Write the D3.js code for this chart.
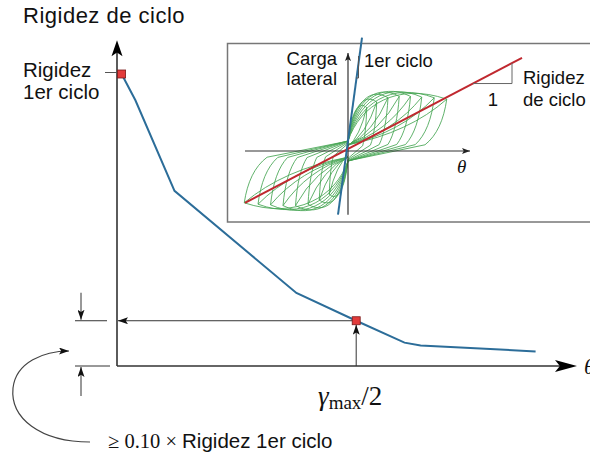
<!DOCTYPE html>
<html>
<head>
<meta charset="utf-8">
<script src="https://cdn.jsdelivr.net/npm/d3@7/dist/d3.min.js"></script>
<style>
  html, body { margin: 0; padding: 0; background: #fff; }
  svg { display: block; }
  .sans { font-family: "Liberation Sans", Arial, sans-serif; fill: #111; }
  .serif { font-family: "Liberation Serif", "DejaVu Serif", serif; fill: #111; }
</style>
</head>
<body>
<svg id="chart" width="590" height="454"></svg>
<script>
// ---- Main curve: cycle stiffness vs drift (relative units) ----
const driftMain = [1, 4, 12.5, 39, 52, 62.5, 66, 91];
const stiffness = [100, 91, 60, 25, 15.5, 8, 7, 5];
const firstCycleIndex = 0;   // stiffness of the first cycle
const halfMaxIndex = 4;      // point at gamma_max / 2

// ---- Inset: hysteresis loops (drift units, load units) ----
const loopAmplitudePos = [0.75, 1.15, 1.6, 2.05, 2.5, 2.95, 3.45, 3.95];
const loopAmplitudeNeg = [0.75, 1.15, 1.6, 2.1, 2.6, 3.1, 3.6, 4.15];
const loopPeakLoad     = [66, 76, 84, 88, 90, 90, 89, 88];
const loopTipLoad      = [62, 70, 76, 78, 78, 77, 76, 74];
const firstCycleLine = [[-0.4, -91], [0.56, 162]];
const cycleStiffLine = [[-4.12, -74], [6.96, 133]];

const svg = d3.select("#chart");

// defs: arrowheads (length x width)
const defs = svg.append("defs");
function marker(id, len, wid, color) {
  defs.append("marker")
    .attr("id", id)
    .attr("viewBox", `0 0 ${len} ${wid}`)
    .attr("refX", len).attr("refY", wid / 2)
    .attr("markerWidth", len).attr("markerHeight", wid)
    .attr("markerUnits", "userSpaceOnUse")
    .attr("orient", "auto")
    .append("path")
    .attr("d", `M0,0 L${len},${wid / 2} L0,${wid} L${len * 0.22},${wid / 2} Z`)
    .attr("fill", color);
}
marker("midArrow", 10, 7, "#111");
marker("smallArrow", 8, 6, "#222");

// explicit arrowhead drawn at (tx, ty) pointing along angle (radians)
function arrowHead(tx, ty, angle, len, wid) {
  const c = Math.cos(angle), s = Math.sin(angle);
  const pt = (u, v) => [tx + u * c - v * s, ty + u * s + v * c];
  const pts = [pt(0, 0), pt(-len, -wid / 2), pt(-len * 0.78, 0), pt(-len, wid / 2)];
  svg.append("path")
    .attr("d", "M" + pts.map(p => p.join(",")).join("L") + "Z")
    .attr("fill", "#000");
}

// ---------------- Main chart ----------------
const x = d3.scaleLinear().domain([0, 100]).range([117, 577]);
const y = d3.scaleLinear().domain([0, 100]).range([366, 74]);

const axisColor = "#333";
// y axis
svg.append("line")
  .attr("x1", x(0)).attr("y1", y(0))
  .attr("x2", x(0)).attr("y2", y(111.6) + 6)
  .attr("stroke", axisColor).attr("stroke-width", 1.6);
arrowHead(x(0), y(111.6), -Math.PI / 2, 16, 11);
// x axis
svg.append("line")
  .attr("x1", x(0)).attr("y1", y(0))
  .attr("x2", x(100) - 8).attr("y2", y(0))
  .attr("stroke", axisColor).attr("stroke-width", 1.6);
arrowHead(x(100), y(0), 0, 22, 12);

// tick for first-cycle stiffness
svg.append("line")
  .attr("x1", x(0) - 12).attr("x2", x(0))
  .attr("y1", y(stiffness[firstCycleIndex]) - 1.5).attr("y2", y(stiffness[firstCycleIndex]) - 1.5)
  .attr("stroke", "#555").attr("stroke-width", 1);

const pts = driftMain.map((d, i) => [d, stiffness[i]]);
const hp = pts[halfMaxIndex];

// guides to the gamma_max/2 point
svg.append("line")
  .attr("x1", x(hp[0])).attr("y1", y(hp[1]))
  .attr("x2", x(0) + 1).attr("y2", y(hp[1]))
  .attr("stroke", "#333").attr("stroke-width", 1)
  .attr("marker-end", "url(#midArrow)");
svg.append("line")
  .attr("x1", x(hp[0])).attr("y1", y(0))
  .attr("x2", x(hp[0])).attr("y2", y(hp[1]) + 4)
  .attr("stroke", "#333").attr("stroke-width", 1)
  .attr("marker-end", "url(#midArrow)");

// curve
svg.append("path")
  .datum(pts)
  .attr("d", d3.line().x(d => x(d[0])).y(d => y(d[1])))
  .attr("fill", "none")
  .attr("stroke", "#2c6d99")
  .attr("stroke-width", 2);

// red markers
[pts[firstCycleIndex], hp].forEach(p => {
  svg.append("rect")
    .attr("x", x(p[0]) - 4).attr("y", y(p[1]) - 4)
    .attr("width", 8).attr("height", 8)
    .attr("fill", "#e23b3b").attr("stroke", "#7a1a1a").attr("stroke-width", 0.8);
});

// dimension marks for the 10% band
const dimX = 81;
svg.append("line").attr("x1", 75).attr("x2", 107)
  .attr("y1", y(hp[1])).attr("y2", y(hp[1])).attr("stroke", "#333").attr("stroke-width", 1);
svg.append("line").attr("x1", 75).attr("x2", 110)
  .attr("y1", y(0)).attr("y2", y(0)).attr("stroke", "#333").attr("stroke-width", 1);
svg.append("line").attr("x1", dimX).attr("x2", dimX)
  .attr("y1", y(hp[1]) - 28).attr("y2", y(hp[1]) - 1)
  .attr("stroke", "#333").attr("stroke-width", 1).attr("marker-end", "url(#midArrow)");
svg.append("line").attr("x1", dimX).attr("x2", dimX)
  .attr("y1", y(0) + 30).attr("y2", y(0) + 1)
  .attr("stroke", "#333").attr("stroke-width", 1).attr("marker-end", "url(#midArrow)");

// curved leader to the note
svg.append("path")
  .attr("d", "M90,442 C40,442 10,418 13,388 C16,362 44,351 69,351")
  .attr("fill", "none").attr("stroke", "#444").attr("stroke-width", 1.2)
  .attr("marker-end", "url(#midArrow)");

// texts
svg.append("text").attr("class", "sans").attr("x", 23).attr("y", 23)
  .attr("font-size", 22).attr("letter-spacing", 0.5).text("Rigidez de ciclo");
svg.append("text").attr("class", "sans").attr("x", 23).attr("y", 77)
  .attr("font-size", 20.5).text("Rigidez");
svg.append("text").attr("class", "sans").attr("x", 23).attr("y", 99)
  .attr("font-size", 20.5).text("1er ciclo");

const note = svg.append("text").attr("x", 108).attr("y", 448).attr("font-size", 20.5);
note.append("tspan").attr("class", "serif").text("≥ 0.10 × ");
note.append("tspan").attr("class", "sans").text("Rigidez 1er ciclo");

const gl = svg.append("text").attr("class", "serif").attr("x", 318).attr("y", 405).attr("font-size", 27);
gl.append("tspan").attr("font-style", "italic").text("γ");
gl.append("tspan").attr("font-size", 19).attr("dy", 4).text("max");
gl.append("tspan").attr("dy", -4).text("/2");

svg.append("text").attr("class", "serif").attr("x", 584).attr("y", 374)
  .attr("font-size", 22).attr("font-style", "italic").text("θ");

// ---------------- Inset ----------------
const ix = d3.scaleLinear().domain([-5, 5]).range([223, 473]);
const iy = d3.scaleLinear().domain([-100, 100]).range([221, 81]);

const inset = svg.append("g");
inset.append("rect")
  .attr("x", 227.5).attr("y", 43.5).attr("width", 380).attr("height", 178.5)
  .attr("fill", "#fff").attr("stroke", "#777").attr("stroke-width", 1.5);

// one full pinched loop followed by a reloading pass to each tip
function loopPath(dp, dn, F, Ft) {
  const p = (a, b) => [ix(a), iy(b)];
  const P = d3.path();
  P.moveTo(...p(0, 0.16 * F));
  // loading towards the positive tip
  P.bezierCurveTo(...p(0.12 * dp, 0.75 * F), ...p(0.5 * dp, 1.12 * F), ...p(dp, Ft));
  // unloading
  P.bezierCurveTo(...p(0.97 * dp, 0.6 * Ft), ...p(0.9 * dp, 0.3 * Ft), ...p(0.78 * dp, 0.12 * Ft));
  P.lineTo(...p(0, -0.16 * F));
  // loading towards the negative tip
  P.bezierCurveTo(...p(-0.12 * dn, -0.75 * F), ...p(-0.5 * dn, -1.12 * F), ...p(-dn, -Ft));
  P.bezierCurveTo(...p(-0.97 * dn, -0.6 * Ft), ...p(-0.9 * dn, -0.3 * Ft), ...p(-0.78 * dn, -0.12 * Ft));
  P.lineTo(...p(0, 0.16 * F));
  // second cycle: pinched reloading to the same tips
  P.moveTo(...p(0, 0.1 * F));
  P.quadraticCurveTo(...p(0.62 * dp, 0.3 * F), ...p(dp, Ft));
  P.moveTo(...p(0, -0.1 * F));
  P.quadraticCurveTo(...p(-0.62 * dn, -0.3 * F), ...p(-dn, -Ft));
  return P.toString();
}
inset.selectAll("path.loop")
  .data(loopAmplitudePos.map((d, i) => [d, loopAmplitudeNeg[i], loopPeakLoad[i], loopTipLoad[i]]))
  .join("path")
  .attr("class", "loop")
  .attr("d", d => loopPath(...d))
  .attr("fill", "none")
  .attr("stroke", "#45a552")
  .attr("stroke-opacity", 0.85)
  .attr("stroke-width", 1);

// inset axes
inset.append("line")
  .attr("x1", ix(-4.12)).attr("x2", ix(4.88))
  .attr("y1", iy(0)).attr("y2", iy(0))
  .attr("stroke", "#333").attr("stroke-width", 1.2)
  .attr("marker-end", "url(#smallArrow)");
inset.append("line")
  .attr("x1", ix(0)).attr("x2", ix(0))
  .attr("y1", iy(-91)).attr("y2", iy(140))
  .attr("stroke", "#333").attr("stroke-width", 1.2)
  .attr("marker-end", "url(#smallArrow)");

// stiffness lines
inset.append("line")
  .attr("x1", ix(cycleStiffLine[0][0])).attr("y1", iy(cycleStiffLine[0][1]))
  .attr("x2", ix(cycleStiffLine[1][0])).attr("y2", iy(cycleStiffLine[1][1]))
  .attr("stroke", "#c0282f").attr("stroke-width", 2);
inset.append("line")
  .attr("x1", ix(firstCycleLine[0][0])).attr("y1", iy(firstCycleLine[0][1]))
  .attr("x2", ix(firstCycleLine[1][0])).attr("y2", iy(firstCycleLine[1][1]))
  .attr("stroke", "#2c6d99").attr("stroke-width", 2);

// slope triangle for cycle stiffness
const slope = (cycleStiffLine[1][1] - cycleStiffLine[0][1]) / (cycleStiffLine[1][0] - cycleStiffLine[0][0]);
const atX = xx => cycleStiffLine[0][1] + slope * (xx - cycleStiffLine[0][0]);
const triX0 = 5.0, triX1 = 6.56;
inset.append("path")
  .attr("d", `M${ix(triX0)},${iy(atX(triX0))} L${ix(triX1)},${iy(atX(triX0))} L${ix(triX1)},${iy(atX(triX1))}`)
  .attr("fill", "none").attr("stroke", "#666").attr("stroke-width", 1);
// slope mark for first cycle
inset.append("path")
  .attr("d", "M356,78 L358.5,78 L358.5,56")
  .attr("fill", "none").attr("stroke", "#555").attr("stroke-width", 1);

// inset labels
inset.append("text").attr("class", "sans").attr("x", 337).attr("y", 65)
  .attr("text-anchor", "end").attr("font-size", 18.5).text("Carga");
inset.append("text").attr("class", "sans").attr("x", 337).attr("y", 85)
  .attr("text-anchor", "end").attr("font-size", 18.5).text("lateral");
inset.append("text").attr("class", "sans").attr("x", 364).attr("y", 67)
  .attr("font-size", 18.5).text("1er ciclo");
inset.append("text").attr("class", "sans").attr("x", 523).attr("y", 84)
  .attr("font-size", 18.5).text("Rigidez");
inset.append("text").attr("class", "sans").attr("x", 523).attr("y", 106)
  .attr("font-size", 18.5).text("de ciclo");
inset.append("text").attr("class", "sans").attr("x", 493).attr("y", 106)
  .attr("text-anchor", "middle").attr("font-size", 18.5).text("1");
inset.append("text").attr("class", "serif").attr("x", 457).attr("y", 173)
  .attr("font-size", 19).attr("font-style", "italic").text("θ");
</script>
</body>
</html>
